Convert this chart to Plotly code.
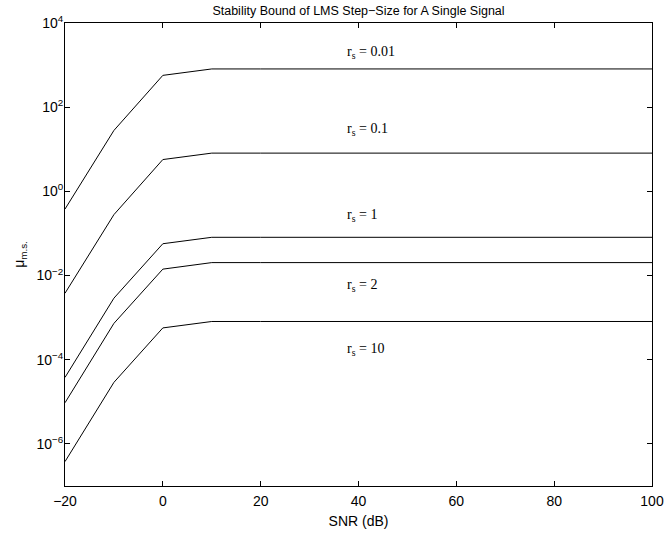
import plotly.graph_objects as go

snr_db = [-20, -10, 0, 10, 20, 30, 40, 50, 60, 70, 80, 90, 100]

mu_rs_0_01 = [0.38, 28.0, 570, 810, 810, 810, 810, 810, 810, 810, 810, 810, 810]
mu_rs_0_1 = [0.0038, 0.28, 5.7, 8.1, 8.1, 8.1, 8.1, 8.1, 8.1, 8.1, 8.1, 8.1, 8.1]
mu_rs_1 = [3.8e-5, 2.9e-3, 0.057, 0.081, 0.081, 0.081, 0.081, 0.081, 0.081, 0.081, 0.081, 0.081, 0.081]
mu_rs_2 = [9.5e-6, 7.3e-4, 0.0142, 0.0203, 0.0203, 0.0203, 0.0203, 0.0203, 0.0203, 0.0203, 0.0203, 0.0203, 0.0203]
mu_rs_10 = [3.8e-7, 2.9e-5, 5.7e-4, 8.1e-4, 8.1e-4, 8.1e-4, 8.1e-4, 8.1e-4, 8.1e-4, 8.1e-4, 8.1e-4, 8.1e-4, 8.1e-4]

series = [mu_rs_0_01, mu_rs_0_1, mu_rs_1, mu_rs_2, mu_rs_10]
labels = ["0.01", "0.1", "1", "2", "10"]
label_x = [37.3, 37.3, 37.3, 37.3, 37.3]
label_logy = [3.30, 1.47, -0.57, -2.24, -3.76]

x_tickvals = [-20, 0, 20, 40, 60, 80, 100]
x_ticktext = ["\u221220", "0", "20", "40", "60", "80", "100"]
y_tickvals = [1e-6, 1e-4, 1e-2, 1e0, 1e2, 1e4]
y_ticktext = ["10<sup>\u22126</sup>", "10<sup>\u22124</sup>", "10<sup>\u22122</sup>",
              "10<sup>0</sup>", "10<sup>2</sup>", "10<sup>4</sup>"]

fig = go.Figure()
for s in series:
    fig.add_trace(go.Scatter(x=snr_db, y=s, mode="lines",
                             line=dict(color="black", width=1), showlegend=False))

for lab, lx, ly in zip(labels, label_x, label_logy):
    fig.add_annotation(x=lx, y=ly, xref="x", yref="y",
                       text="r<sub>s</sub> = " + lab, showarrow=False,
                       xanchor="left", yanchor="middle",
                       font=dict(family="Liberation Serif", size=14, color="black"))

axis_common = dict(showline=True, linecolor="black", linewidth=1, mirror="ticks",
                   ticks="inside", ticklen=5, tickcolor="black", showgrid=False,
                   zeroline=False, automargin=False,
                   tickfont=dict(family="Liberation Sans", size=14, color="black"))

fig.update_layout(
    width=664, height=533,
    margin=dict(l=65, r=12, t=23, b=47),
    paper_bgcolor="white", plot_bgcolor="white",
    title=dict(text="Stability Bound of LMS Step\u2212Size for A Single Signal",
               x=(65 + 652) / 2 / 664, xanchor="center", y=1 - 11 / 533, yanchor="middle",
               font=dict(family="Liberation Sans", size=12.5, color="black")),
    xaxis=dict(range=[-20, 100], tickvals=x_tickvals, ticktext=x_ticktext,
               ticklabelstandoff=2,
               title=dict(text="SNR (dB)", standoff=8,
                          font=dict(family="Liberation Sans", size=14, color="black")),
               **axis_common),
    yaxis=dict(type="log", range=[-7, 4], tickvals=y_tickvals, ticktext=y_ticktext,
               ticklabelstandoff=-2,
               title=dict(text="\u03bc<sub>m.s.</sub>", standoff=8,
                          font=dict(family="Liberation Sans", size=14, color="black")),
               **axis_common),
)

fig.write_html("out.html", config={"displayModeBar": False},
               post_script="document.body.style.margin='0';document.body.style.padding='0';")
